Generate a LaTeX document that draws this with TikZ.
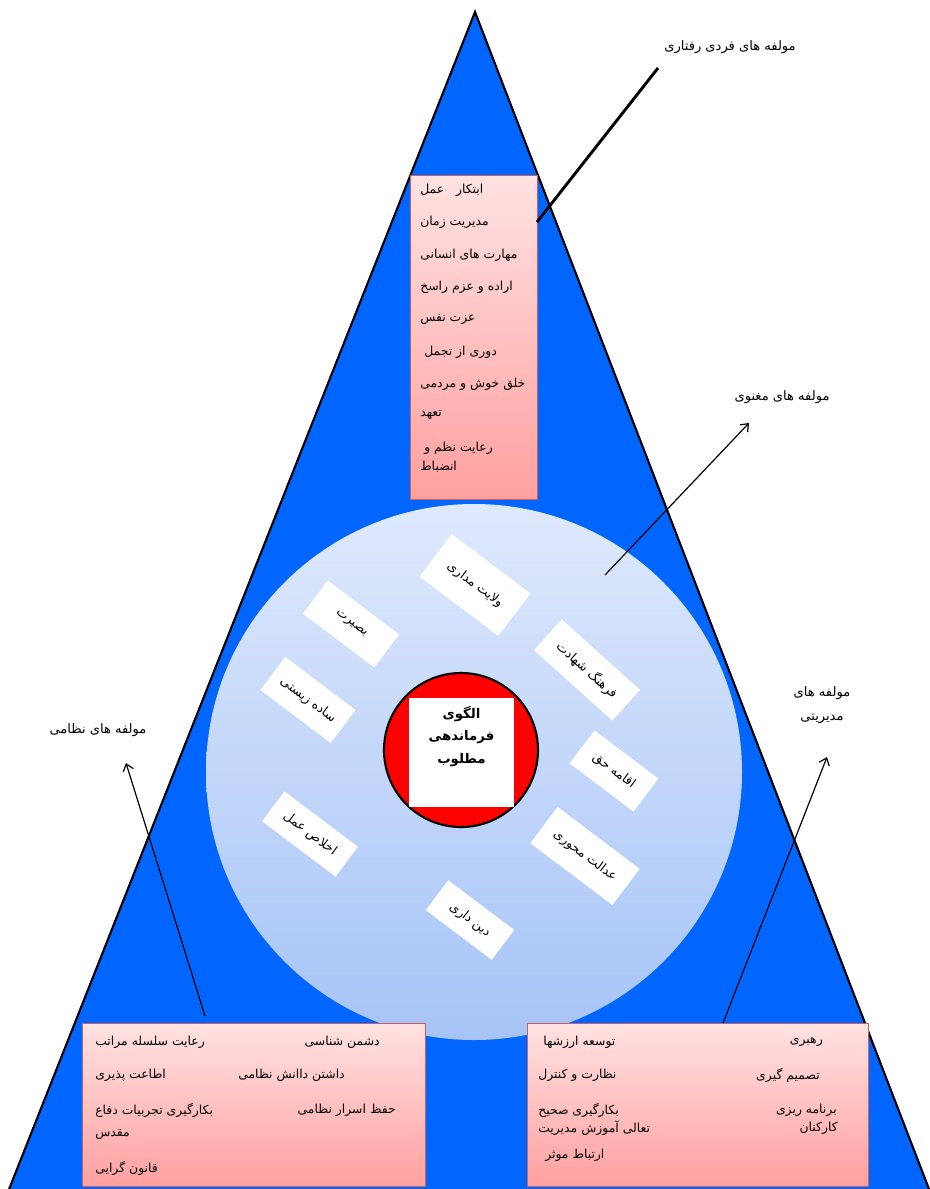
\documentclass[tikz,border=0pt]{standalone}
\usepackage{fontspec}
\usetikzlibrary{arrows.meta}
\setmainfont{Liberation Sans}
\newfontfamily\farsi[Script=Arabic]{DejaVu Sans}
\TeXXeTstate=1
\newcommand{\fa}[1]{\beginR #1\endR}
\definecolor{pyramidblue}{RGB}{0,102,255}
\definecolor{discTop}{RGB}{222,233,252}
\definecolor{discBottom}{RGB}{166,196,247}
\definecolor{pinkTop}{RGB}{255,226,226}
\definecolor{pinkBottom}{RGB}{255,160,160}
\definecolor{pinkEdge}{RGB}{205,95,95}
\tikzset{
    pyramid/.style = {fill=pyramidblue, draw=black, line width=1.6pt, line join=miter},
    value-disc/.style = {top color=discTop, bottom color=discBottom},
    core-disc/.style = {fill=red, draw=black, line width=1.6pt},
    core-box/.style = {fill=white, inner sep=0pt, minimum width=78.75pt, minimum height=81.75pt},
    core-title/.style = {font=\farsi\bfseries\fontsize{10}{17}\selectfont, align=center, inner sep=0pt},
    value-box/.style = {fill=white, rotate=-37, inner sep=0pt, minimum height=31pt, font=\farsi\fontsize{9.5}{11}\selectfont},
    list-box/.style = {top color=pinkTop, bottom color=pinkBottom, draw=pinkEdge, line width=0.6pt, inner sep=0pt},
    item/.style = {font=\farsi\fontsize{9.3}{11}\selectfont, inner sep=0pt},
    group-label/.style = {font=\farsi\fontsize{9.8}{18.5}\selectfont, align=center, inner sep=0pt},
    pointer/.style = {-{Straight Barb[length=5pt,width=8pt]}, line width=0.9pt},
}
\begin{document}
\begin{tikzpicture}[x=0.75pt,y=-0.75pt]
\useasboundingbox (0,0) rectangle (930,1189);
\clip (0,0) rectangle (930,1189);
\fill[white] (0,0) rectangle (930,1189);
\draw[pyramid] (475,12) -- (4,1202) -- (934,1202) -- cycle;

\shade[value-disc] (474,772) circle [radius=268];
\node[value-box, minimum width=74pt, minimum height=40pt] (velayat) at (475,585) {\fa{ولایت مداری}};
\node[value-box, minimum width=67pt] (basirat) at (351,624) {\fa{بصیرت}};
\node[value-box, minimum width=66pt] (sadeh) at (308,700) {\fa{ساده زیستی}};
\node[value-box, minimum width=79pt, rotate=-5] (shahadat) at (587,670) {\fa{فرهنگ شهادت}};
\node[value-box, minimum width=60pt] (eqameh) at (614,771) {\fa{اقامه حق}};
\node[value-box, minimum width=77pt, minimum height=34pt] (edalat) at (585,856) {\fa{عدالت محوری}};
\node[value-box, minimum width=62pt, minimum height=28pt] (dindari) at (470,920) {\fa{دین داری}};
\node[value-box, minimum width=69pt, minimum height=28pt] (ekhlas) at (310,834) {\fa{اخلاص عمل}};

\draw[core-disc] (461,750) circle [radius=77];
\node[core-box] (core) at (461.5,752.5) {};
\node[core-title, anchor=north] at ([yshift=-6pt]core.north) {\fa{الگوی}\\\fa{فرماندهی}\\\fa{مطلوب}};

\node[list-box, minimum width=95.25pt, minimum height=243pt] (personal) at (473.5,337) {};
\node[item, anchor=west] at (420,190) {\fa{ابتکار \ \ عمل}};
\node[item, anchor=west] at (420,222) {\fa{مدیریت زمان}};
\node[item, anchor=west] at (420,255) {\fa{مهارت های انسانی}};
\node[item, anchor=west] at (420,287) {\fa{اراده و عزم راسخ}};
\node[item, anchor=west] at (420,320) {\fa{عزت نفس}};
\node[item, anchor=west] at (424,352) {\fa{دوری از تجمل}};
\node[item, anchor=west] at (420,384) {\fa{خلق خوش و مردمی}};
\node[item, anchor=west] at (420,415) {\fa{تعهد}};
\node[item, anchor=west] at (424,448) {\fa{رعایت نظم و}};
\node[item, anchor=west] at (420,467) {\fa{انضباط}};

\node[list-box, minimum width=257.25pt, minimum height=122.25pt] (military) at (253.5,1104.5) {};
\node[item, anchor=west] at (95,1042) {\fa{رعایت سلسله مراتب}};
\node[item, anchor=east] at (380,1042) {\fa{دشمن شناسی}};
\node[item, anchor=west] at (95,1075) {\fa{اطاعت پذیری}};
\node[item, anchor=east] at (345,1075) {\fa{داشتن داانش نظامی}};
\node[item, anchor=west] at (95,1110) {\fa{بکارگیری تجربیات دفاع}};
\node[item, anchor=west] at (95,1135) {\fa{مقدس}};
\node[item, anchor=east] at (396,1110) {\fa{حفظ اسرار نظامی}};
\node[item, anchor=west] at (95,1168) {\fa{قانون گرایی}};

\node[list-box, minimum width=255.75pt, minimum height=122.25pt] (management) at (697.5,1104.5) {};
\node[item, anchor=east] at (823,1042) {\fa{رهبری}};
\node[item, anchor=west] at (543,1042) {\fa{توسعه ارزشها}};
\node[item, anchor=east] at (820,1075) {\fa{تصمیم گیری}};
\node[item, anchor=west] at (538,1075) {\fa{نظارت و کنترل}};
\node[item, anchor=east] at (837,1110) {\fa{برنامه ریزی}};
\node[item, anchor=east] at (838,1128) {\fa{کارکنان}};
\node[item, anchor=west] at (538,1110) {\fa{بکارگیری صحیح}};
\node[item, anchor=west] at (538,1128) {\fa{تعالی آموزش مدیریت}};
\node[item, anchor=west] at (545,1155) {\fa{ارتباط موثر}};

\node[group-label] (personal-label) at (730,47) {\fa{مولفه های فردی رفتاری}};
\node[group-label] (spirit-label) at (782,397) {\fa{مولفه های مغنوی}};
\node[group-label] (management-label) at (822,705) {\fa{مولفه های}\\\fa{مدیریتی}};
\node[group-label] (military-label) at (98,730) {\fa{مولفه های نظامی}};

\coordinate (personal-end) at (537,222);
\coordinate (personal-tip) at (658,68);
\coordinate (spirit-start) at (605,575);
\coordinate (spirit-tip) at (749,423);
\coordinate (management-start) at (723,1023);
\coordinate (management-tip) at (827,757);
\coordinate (military-start) at (205,1016);
\coordinate (military-tip) at (126,763);

\draw[line width=2.2pt] (personal-end) -- (personal-tip);
\draw[pointer] (spirit-start) -- (spirit-tip);
\draw[pointer] (management-start) -- (management-tip);
\draw[pointer] (military-start) -- (military-tip);
\end{tikzpicture}
\end{document}
